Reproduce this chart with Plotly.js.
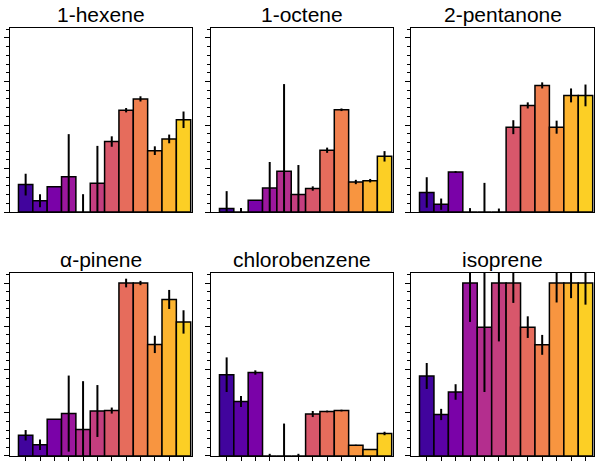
<!DOCTYPE html>
<html><head><script src="https://cdn.plot.ly/plotly-3.0.1.min.js"></script></head>
<body style="margin:0"><div id="g" style="width:600px;height:466px"></div>
<script>
const categories = [0,1,2,3,4,5,6,7,8,9,10,11];
const titles = ["1-hexene","1-octene","2-pentanone","α-pinene","chlorobenzene","isoprene"];
const hexene = [0.63,0.26,0.58,0.81,0,0.66,1.62,2.34,2.6,1.41,1.68,2.12];
const hexeneErr = [0.25,0.15,0,0.98,0.41,0.86,0.12,0.05,0.06,0.1,0.1,0.19];
const octene = [0.08,0,0.27,0.55,0.94,0.4,0.54,1.42,2.35,0.69,0.72,1.28];
const octeneErr = [0.4,0.09,0,0.6,2.0,0.68,0.05,0.06,0.03,0.05,0.04,0.12];
const pentanone = [0.45,0.18,0.92,0,0,0,1.95,2.45,2.91,1.95,2.68,2.68];
const pentanoneErr = [0.35,0.13,0.02,0.09,0.67,0.08,0.16,0.07,0.07,0.15,0.16,0.25];
const pinene = [0.48,0.26,0.85,0.98,0.61,1.04,1.05,4.0,4.0,2.58,3.62,3.1];
const pineneErr = [0.12,0.12,0,0.88,1.12,0.6,0.07,0.1,0.05,0.2,0.22,0.27];
const chloro = [1.88,1.26,1.93,0,0,0,0.97,1.03,1.05,0.25,0.15,0.52];
const chloroErr = [0.4,0.13,0.05,0.05,0.75,0.05,0.07,0.02,0.02,0.01,0.01,0.04];
const isoprene = [1.85,0.96,1.48,4.0,2.98,4.0,4.0,2.98,2.57,4.0,4.0,4.0];
const isopreneErr = [0.3,0.13,0.18,0.9,1.5,1.35,0.46,0.25,0.23,0.45,0.35,0.5];
const colors = ["#41049d","#5c01a6","#7a02a8","#9c179e","#b42e8e","#c43e7f","#d8576b","#e66c5c","#f0804f","#f89540","#fdb42f","#fccf25"];

const vals=[hexene,octene,pentanone,pinene,chloro,isoprene];
const errs=[hexeneErr,octeneErr,pentanoneErr,pineneErr,chloroErr,isopreneErr];
const xd=[[10/600,192/600],[211/600,393/600],[411/600,594/600]];
const yd=[[0.545,0.94],[0.0215,0.414]];
const data=[],layout={width:600,height:466,margin:{l:0,r:0,t:0,b:0},showlegend:false,bargap:0,
 paper_bgcolor:"white",plot_bgcolor:"white",annotations:[],font:{family:"Liberation Sans",color:"black"}};
for(let p=0;p<6;p++){
 const c=p%3,r=Math.floor(p/3),s=p+1;
 data.push({type:"bar",x:categories,y:vals[p],xaxis:"x"+s,yaxis:"y"+s,
  marker:{color:colors,line:{color:"black",width:1.5}},
  error_y:{type:"data",array:errs[p],visible:true,color:"black",thickness:2,width:0}});
 layout["xaxis"+s]={domain:xd[c],anchor:"y"+s,range:[-1.09,11.59],showgrid:false,zeroline:false,
  showline:true,mirror:true,linecolor:"black",linewidth:1.2,showticklabels:false,
  ticks:r==1?"outside":"",ticklen:4,tickcolor:"black",tickvals:categories};
 layout["yaxis"+s]={domain:yd[r],anchor:"x"+s,range:[0,4.23],showgrid:false,zeroline:false,
  showline:true,mirror:true,linecolor:"black",linewidth:1.2,showticklabels:false,
  ticks:"outside",ticklen:5,tickcolor:"black",dtick:1,tick0:0,
  minor:{dtick:0.2,ticks:"outside",ticklen:3,tickcolor:"black",showgrid:false}};
 layout.annotations.push({text:titles[p],xref:"paper",yref:"paper",x:(xd[c][0]+xd[c][1])/2,
  xanchor:"center",y:yd[r][1],yanchor:"bottom",yshift:0,showarrow:false,
  font:{size:21,color:"black",family:"Liberation Sans"}});
}
Plotly.newPlot("g",data,layout,{staticPlot:true});
</script></body></html>
